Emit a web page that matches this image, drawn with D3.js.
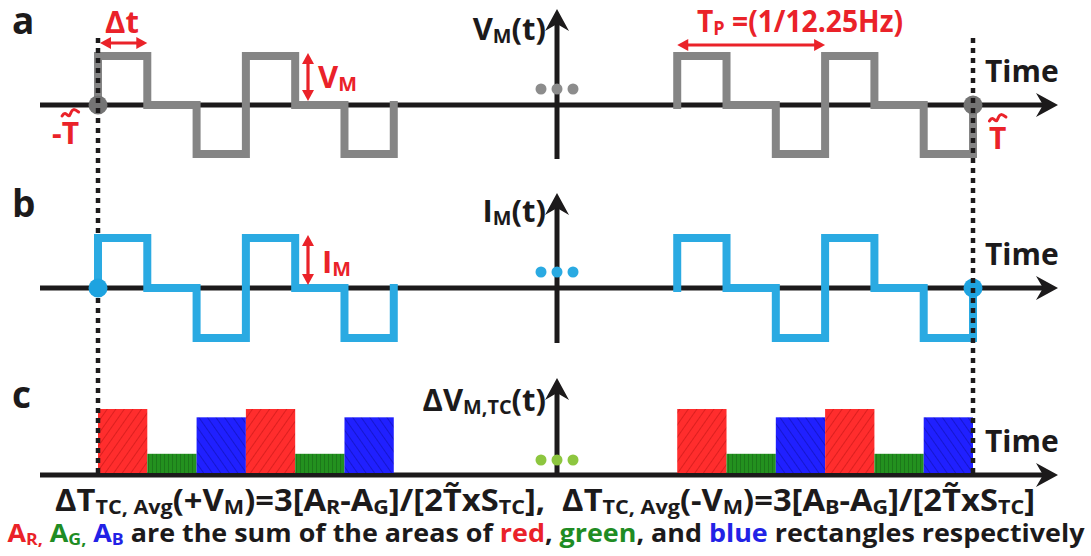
<!DOCTYPE html>
<html>
<head>
<meta charset="utf-8">
<script src="https://cdn.jsdelivr.net/npm/d3@7"></script>
<style>
  body { margin: 0; background: #fff; }
  svg { display: block; }
  text { font-family: "Open Sans", sans-serif; font-weight: 700; white-space: pre; }
</style>
</head>
<body>
<svg id="chart" width="1091" height="556"></svg>
<script>
// one burst of the excitation: level per Δt slot (+V, 0, -V, +V, 0, -V)
const levels = [1, 0, -1, 1, 0, -1];
// burst start times, in Δt units counted from -T~
const burstStarts = [0, 11.75];
const tEnd = 17.75;
// thermocouple response (relative height) for each slot of a burst
const tcValues = [1.0, 0.3, 0.87, 1.0, 0.3, 0.87];
const panelLetters = ["a", "b", "c"];
const timeLabel = "Time";

const RED = "#ea2229", GREEN = "#1f8c24", BLUE = "#2222e6", INK = "#1c1a1b";
const GRAY_WAVE = "#858585", BLUE_WAVE = "#2aaae2";
const levelColor = { "1": "#ff2d2d", "0": "#23911f", "-1": "#2020ff" };

const svg = d3.select("#chart");
const defs = svg.append("defs");

const x = d3.scaleLinear().domain([0, tEnd]).range([98, 973]);
const axisX0 = 40, axisX1 = 1058, axisV = 557;

const panels = [
    { zero: 105, vTop: 9, vBot: 159, y: d3.scaleLinear().domain([-1, 1]).range([154, 56]) },
    { zero: 288, vTop: 193, vBot: 343, y: d3.scaleLinear().domain([-1, 1]).range([338, 238]) },
    { zero: 475, vTop: 378, vBot: 475, y: d3.scaleLinear().domain([0, 1]).range([473, 409]) }
];

// hatch patterns for the bars
function hatch(id, bg, ink, angle, gap) {
    const p = defs.append("pattern").attr("id", id).attr("patternUnits", "userSpaceOnUse")
        .attr("width", gap).attr("height", gap).attr("patternTransform", `rotate(${angle})`);
    p.append("rect").attr("width", gap).attr("height", gap).attr("fill", bg);
    p.append("line").attr("x1", 0).attr("y1", 0).attr("x2", 0).attr("y2", gap)
        .attr("stroke", ink).attr("stroke-width", 1.1).attr("stroke-opacity", 0.55);
}
hatch("h1", levelColor["1"], "#8a0000", 35, 7);
hatch("h0", levelColor["0"], "#0b3d0b", 0, 4);
hatch("h-1", levelColor["-1"], "#00005a", -35, 7);

function arrowHead(g, tx, ty, dir) {
    // concave arrow head pointing right (dir "r") or up (dir "u")
    const pts = dir === "r"
        ? [[tx, ty], [tx - 22, ty - 12], [tx - 15, ty], [tx - 22, ty + 12]]
        : [[tx, ty], [tx - 12, ty + 22], [tx, ty + 15], [tx + 12, ty + 22]];
    g.append("path").attr("d", "M" + pts.join("L") + "Z").attr("fill", INK);
}

const axes = svg.append("g");
panels.forEach(p => {
    axes.append("line").attr("x1", axisX0).attr("x2", axisX1 - 14).attr("y1", p.zero).attr("y2", p.zero)
        .attr("stroke", INK).attr("stroke-width", 5);
    arrowHead(axes, axisX1, p.zero, "r");
    axes.append("line").attr("x1", axisV).attr("x2", axisV).attr("y1", p.vTop + 14).attr("y2", p.vBot)
        .attr("stroke", INK).attr("stroke-width", 5);
    arrowHead(axes, axisV, p.vTop, "u");
});

// square waves
const wave = (y) => d3.line().x(d => x(d.t)).y(d => y(d.v)).curve(d3.curveStepAfter);
function burstPoints(s) {
    return [{ t: s, v: 0 }, ...levels.map((v, i) => ({ t: s + i, v })), { t: s + levels.length, v: 0 }];
}
function drawWave(p, s, color) {
    svg.append("path").datum(burstPoints(s)).attr("d", wave(p.y))
        .attr("fill", "none").attr("stroke", color).attr("stroke-width", 8)
        .attr("stroke-linecap", "square").attr("stroke-linejoin", "miter");
}
burstStarts.forEach(s => drawWave(panels[0], s, GRAY_WAVE));
drawWave(panels[1], burstStarts[1], BLUE_WAVE);

// thermocouple response bars
const bars = burstStarts.flatMap(s => levels.map((lv, i) => ({ t: s + i, v: tcValues[i], lv })));
svg.append("g").selectAll("rect").data(bars).join("rect")
    .attr("x", d => x(d.t)).attr("width", d => x(d.t + 1) - x(d.t))
    .attr("y", d => panels[2].y(d.v)).attr("height", d => panels[2].y(0) - panels[2].y(d.v))
    .attr("fill", d => `url(#h${d.lv})`);

// "..." break marks
const dotColors = ["#8c8c8c", "#2aaae2", "#8dc63f"];
const dotYs = [89, 272, 460];
panels.forEach((p, k) => {
    svg.append("g").selectAll("circle").data([-16, 0, 16]).join("circle")
        .attr("cx", d => axisV + d).attr("cy", dotYs[k]).attr("r", 5.5).attr("fill", dotColors[k]);
});

// end markers at -T~ and T~
[0, tEnd].forEach(t => svg.append("circle").attr("cx", x(t)).attr("cy", panels[0].zero).attr("r", 9.5).attr("fill", "#747474"));
svg.append("circle").attr("cx", x(tEnd)).attr("cy", panels[1].zero).attr("r", 9.5).attr("fill", "#1ea3e0");

// dotted guides
[0, tEnd].forEach(t => svg.append("line").attr("x1", x(t)).attr("x2", x(t)).attr("y1", 38).attr("y2", 473)
    .attr("stroke", INK).attr("stroke-width", 4.5).attr("stroke-dasharray", "5,5"));

drawWave(panels[1], burstStarts[0], BLUE_WAVE);
svg.append("circle").attr("cx", x(0)).attr("cy", panels[1].zero).attr("r", 9.5).attr("fill", "#1ea3e0");

// rich text with small subscripts
function rich(x0, y0, parts, size, opts = {}) {
    const t = svg.append("text").attr("x", x0).attr("y", y0).attr("font-size", size)
        .attr("text-anchor", opts.anchor || "start").attr("fill", opts.color || INK);
    let off = 0;
    parts.forEach(p => {
        const target = p.s ? size * 0.1 : 0;
        t.append("tspan").text(p.t).attr("dy", target - off)
            .attr("font-size", p.s ? size * (opts.sub || 0.64) : size)
            .attr("fill", p.c || opts.color || INK);
        off = target;
    });
    if (opts.width) {
        t.attr("textLength", opts.width).attr("lengthAdjust", "spacingAndGlyphs");
    }
    return t;
}

// wide tilde drawn over the character at index i of a text
function tildeOver(t, i, color, y) {
    const n = t.node();
    const a = n.getStartPositionOfChar(i).x, b = n.getEndPositionOfChar(i).x;
    const w = (b - a) * 0.95, cx = (a + b) / 2;
    svg.append("path")
        .attr("d", `M${cx - w / 2},${y + 2}C${cx - w / 4},${y - 5} ${cx - w / 8},${y + 6} ${cx},${y}S${cx + w / 4},${y - 5} ${cx + w / 2},${y - 2}`)
        .attr("fill", "none").attr("stroke", color).attr("stroke-width", 3).attr("stroke-linecap", "round");
}

// panel letters
[34, 217, 408].forEach((yy, k) => rich(12, yy, [{ t: panelLetters[k] }], 37));

// axis titles
rich(546, 40, [{ t: "V" }, { t: "M", s: 1 }, { t: "(t)" }], 31, { anchor: "end" });
rich(546, 222, [{ t: "I" }, { t: "M", s: 1 }, { t: "(t)" }], 31, { anchor: "end" });
rich(546, 411, [{ t: "\u0394V" }, { t: "M,TC", s: 1 }, { t: "(t)" }], 31, { anchor: "end" });
panels.forEach(p => rich(985, p.zero - 23, [{ t: timeLabel }], 30));

// red annotations
function dblArrow(x1, y1, x2, y2) {
    const a = Math.atan2(y2 - y1, x2 - x1), L = 11, W = 6;
    const c = Math.cos(a), s = Math.sin(a);
    svg.append("line").attr("x1", x1 + c * 6).attr("y1", y1 + s * 6).attr("x2", x2 - c * 6).attr("y2", y2 - s * 6)
        .attr("stroke", RED).attr("stroke-width", 3.2);
    [[x1, y1, 1], [x2, y2, -1]].forEach(([px, py, d]) => {
        const bx = px + d * c * L, by = py + d * s * L;
        svg.append("path").attr("d", `M${px},${py}L${bx - s * W},${by + c * W}L${bx + s * W},${by - c * W}Z`).attr("fill", RED);
    });
}
dblArrow(x(0) + 2, 43, x(1), 43);
rich(105, 33, [{ t: "\u0394t" }], 31, { color: RED });
dblArrow(308, panels[0].y(1) - 3, 308, panels[0].zero - 4);
rich(318, 88, [{ t: "V" }, { t: "M", s: 1 }], 31, { color: RED });
dblArrow(308, panels[1].y(1) - 3, 308, panels[1].zero - 3);
rich(322, 273, [{ t: "I" }, { t: "M", s: 1 }], 31, { color: RED });
const negT = rich(52, 144, [{ t: "-T" }], 30, { color: RED });
tildeOver(negT, 1, RED, 114);
const posT = rich(989, 149, [{ t: "T" }], 30, { color: RED });
tildeOver(posT, 0, RED, 119);
dblArrow(x(burstStarts[1]), 45, x(burstStarts[1] + 3), 45);
rich(697, 32, [{ t: "T" }, { t: "P", s: 1 }, { t: " =(1/12.25Hz)" }], 31, { color: RED, width: 206 });

// formula lines
const line1 = [
    { t: "\u0394T" }, { t: "TC, Avg", s: 1 }, { t: "(+V" }, { t: "M", s: 1 }, { t: ")=3[A" }, { t: "R", s: 1 },
    { t: "-A" }, { t: "G", s: 1 }, { t: "]/[2T\u0303xS" }, { t: "TC", s: 1 }, { t: "],  \u0394T" }, { t: "TC, Avg", s: 1 },
    { t: "(-V" }, { t: "M", s: 1 }, { t: ")=3[A" }, { t: "B", s: 1 }, { t: "-A" }, { t: "G", s: 1 },
    { t: "]/[2T\u0303xS" }, { t: "TC", s: 1 }, { t: "]" }
];
const line2 = [
    { t: "A", c: RED }, { t: "R,", s: 1, c: RED }, { t: " A", c: GREEN }, { t: "G,", s: 1, c: GREEN },
    { t: " A", c: BLUE }, { t: "B", s: 1, c: BLUE }, { t: " are the sum of the areas of " }, { t: "red", c: RED },
    { t: ", " }, { t: "green", c: GREEN }, { t: ", and " }, { t: "blue", c: BLUE }, { t: " rectangles respectively" }
];
rich(545, 511, line1, 31, { anchor: "middle", width: 980, sub: 0.66 });
rich(546, 542, line2, 25, { anchor: "middle", width: 1077, sub: 0.66 });
</script>
</body>
</html>
